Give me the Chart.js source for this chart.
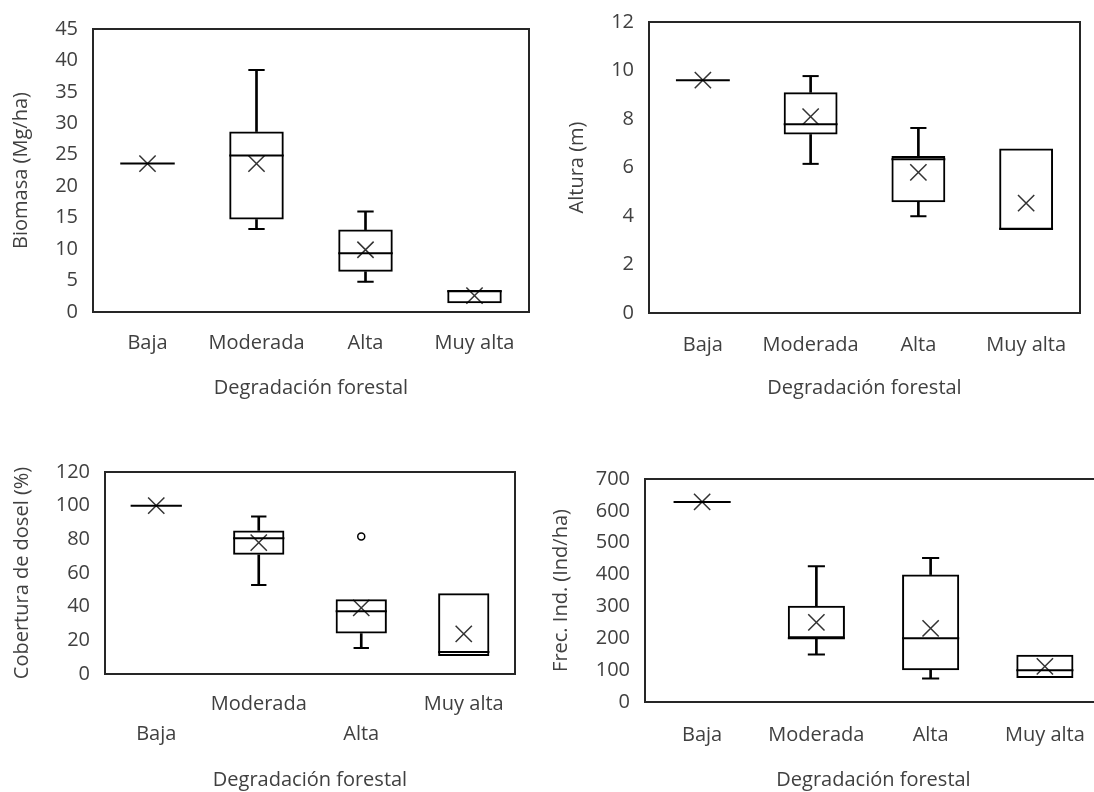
<!DOCTYPE html>
<html>
<head>
<meta charset="utf-8">
<script src="https://cdn.jsdelivr.net/npm/chart.js@4.4.1/dist/chart.umd.min.js"></script>
<style>
html, body { margin: 0; padding: 0; background: #fff; overflow: hidden; width: 1094px; height: 792px; }
#wrap { position: relative; width: 1094px; height: 792px; overflow: hidden; }
canvas { position: absolute; }
</style>
</head>
<body>
<div id="wrap">
<canvas id="c1" width="540" height="404" style="left:0;top:0"></canvas>
<canvas id="c2" width="536" height="404" style="left:556px;top:0"></canvas>
<canvas id="c3" width="527" height="352" style="left:0;top:440px"></canvas>
<canvas id="c4" width="574" height="352" style="left:540px;top:440px"></canvas>
</div>
<script>
const categories = ['Baja', 'Moderada', 'Alta', 'Muy alta'];

// Biomasa (Mg/ha)
const bioMin  = [null, 13.2, 4.8, null];
const bioQ1   = [null, 14.7, 6.4, 1.4];
const bioMed  = [23.6, 24.9, 9.35, 3.3];
const bioQ3   = [null, 28.7, 13.1, 3.5];
const bioMax  = [null, 38.5, 16.0, null];
const bioMean = [23.6, 23.6, 9.9, 2.6];

// Altura (m)
const altMin  = [null, 6.15, 3.99, null];
const altQ1   = [null, 7.36, 4.57, 3.42];
const altMed  = [9.6, 7.78, 6.34, 3.47];
const altQ3   = [null, 9.1, 6.47, 6.78];
const altMax  = [null, 9.77, 7.63, null];
const altMean = [9.6, 8.1, 5.8, 4.53];

// Cobertura de dosel (%)
const covMin  = [null, 52.8, 15.5, null];
const covQ1   = [null, 70.8, 24, 10.7];
const covMed  = [100, 80.7, 37.3, 13.1];
const covQ3   = [null, 85.3, 44.4, 48];
const covMax  = [null, 93.6, null, null];
const covMean = [100, 78, 39.3, 23.8];
const covOut  = [null, null, 81.7, null];

// Frec. Ind. (Ind/ha)
const frecMin  = [null, 149, 74, null];
const frecQ1   = [null, 200, 100, 75];
const frecMed  = [628, 200, 200, 100];
const frecQ3   = [null, 302, 400, 148];
const frecMax  = [null, 426, 452, null];
const frecMean = [628, 250, 231, 112];

const TXT = '#404040';
Chart.defaults.font.family = "'Open Sans', sans-serif";
Chart.defaults.font.size = 20;
Chart.defaults.color = TXT;

const framePlugin = {
  id: 'frame',
  afterDraw(chart) {
    const a = chart.chartArea, c = chart.ctx;
    c.save();
    c.strokeStyle = '#262626';
    c.lineWidth = 2;
    c.strokeRect(a.left, a.top, a.right - a.left, a.bottom - a.top);
    c.restore();
  }
};

function range(lo, hi) {
  return lo.map((v, i) => (v == null || hi[i] == null) ? null : [v, hi[i]]);
}

function catW(ctx) {
  const a = ctx.chart.chartArea;
  return a ? (a.right - a.left) / categories.length : 108;
}

function pts(data, style, radius, extra) {
  return Object.assign({
    type: 'line', data, showLine: false,
    pointStyle: style, pointRadius: radius, pointHoverRadius: radius,
    pointBorderColor: '#000', pointBorderWidth: 2, pointBackgroundColor: '#fff'
  }, extra || {});
}

function boxChart(id, s, o) {
  const datasets = [
    { data: range(s.q1, s.q3), backgroundColor: 'rgba(0,0,0,0)', borderColor: '#000',
      borderWidth: 2, borderSkipped: false, grouped: false, barPercentage: 0.5, categoryPercentage: 1 },
    { data: range(s.q3, s.max), backgroundColor: '#000', barThickness: 2, grouped: false },
    { data: range(s.min, s.q1), backgroundColor: '#000', barThickness: 2, grouped: false },
    pts(s.max, 'line', ctx => catW(ctx) * 0.075),
    pts(s.min, 'line', ctx => catW(ctx) * 0.075),
    pts(s.med, 'line', ctx => catW(ctx) * 0.25),
    pts(s.mean, 'crossRot', 11.5, { pointBorderColor: '#333', pointBorderWidth: 1.5 })
  ];
  if (s.out) datasets.push(pts(s.out, 'circle', 3.5, { pointBorderWidth: 1.5 }));

  new Chart(document.getElementById(id), {
    type: 'bar',
    data: { labels: categories, datasets },
    options: {
      responsive: false,
      animation: false,
      events: [],
      plugins: { legend: { display: false }, tooltip: { enabled: false } },
      layout: { autoPadding: false, padding: { top: o.padTop, right: o.padRight, left: 0, bottom: 0 } },
      scales: {
        x: {
          grid: { display: false, drawTicks: false },
          border: { display: false },
          ticks: {
            padding: o.xPad, autoSkip: false, maxRotation: 0, minRotation: 0, color: TXT,
            font: { size: 20, lineHeight: o.xLh || 1.2 },
            callback: o.xCb || ((v, i) => categories[i])
          },
          title: { display: true, text: 'Degradación forestal', color: TXT,
                   padding: { top: 0, bottom: o.xTitlePad } },
          afterFit: sc => { sc.height = o.xH; sc.paddingLeft = 0; sc.paddingRight = 0; }
        },
        y: {
          min: 0, max: o.max,
          grid: { display: false, drawTicks: false },
          border: { display: false },
          ticks: { stepSize: o.step, padding: 15, color: TXT },
          title: { display: true, text: o.yTitle, color: TXT,
                   padding: { top: o.yTitlePad, bottom: 0 } },
          afterFit: sc => { sc.width = o.yW; sc.paddingTop = 0; sc.paddingBottom = 0; }
        }
      }
    },
    plugins: [framePlugin]
  });
}

boxChart('c1',
  { min: bioMin, q1: bioQ1, med: bioMed, q3: bioQ3, max: bioMax, mean: bioMean },
  { max: 45, step: 5, yTitle: 'Biomasa (Mg/ha)', padTop: 29, padRight: 11,
    yW: 93, xH: 92, xPad: 19, xTitlePad: 4, yTitlePad: 9 });

boxChart('c2',
  { min: altMin, q1: altQ1, med: altMed, q3: altQ3, max: altMax, mean: altMean },
  { max: 12, step: 2, yTitle: 'Altura (m)', padTop: 22, padRight: 12,
    yW: 93, xH: 91, xPad: 20, xTitlePad: 4, yTitlePad: 9 });

boxChart('c3',
  { min: covMin, q1: covQ1, med: covMed, q3: covQ3, max: covMax, mean: covMean, out: covOut },
  { max: 120, step: 20, yTitle: 'Cobertura de dosel (%)', padTop: 32, padRight: 12,
    yW: 105, xH: 118, xPad: 16, xLh: 1.465, xTitlePad: 0, yTitlePad: 10.7,
    xCb: (v, i) => i % 2 === 0 ? ['', categories[i]] : categories[i] });

boxChart('c4',
  { min: frecMin, q1: frecQ1, med: frecMed, q3: frecQ3, max: frecMax, mean: frecMean },
  { max: 700, step: 100, yTitle: 'Frec. Ind. (Ind/ha)', padTop: 39, padRight: 12,
    yW: 105, xH: 90, xPad: 21, xTitlePad: 0, yTitlePad: 9 });
</script>
</body>
</html>
